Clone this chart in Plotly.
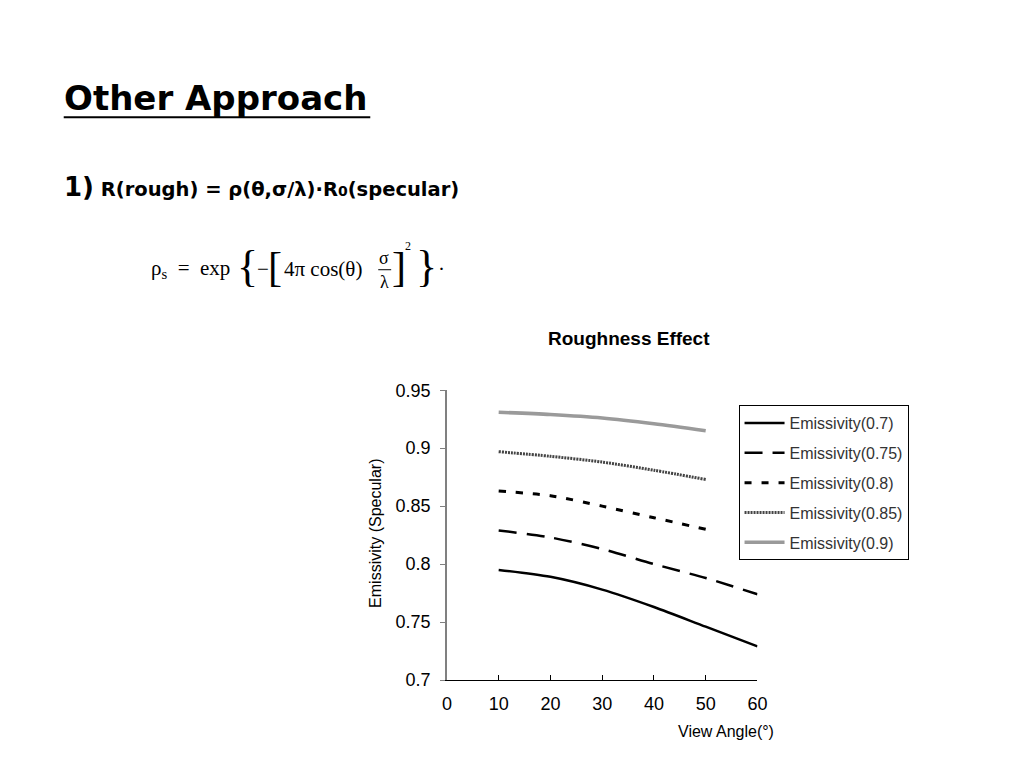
import plotly.graph_objects as go

angles_full = [10, 20, 30, 40, 50, 60]
angles_short = [10, 20, 30, 40, 50]

emis_070 = [0.795, 0.789, 0.778, 0.763, 0.746, 0.729]
emis_075 = [0.829, 0.823, 0.813, 0.800, 0.788, 0.774]
emis_080 = [0.863, 0.859, 0.850, 0.840, 0.830]
emis_085 = [0.897, 0.893, 0.888, 0.881, 0.873]
emis_090 = [0.931, 0.929, 0.926, 0.921, 0.915]

series_names = ["Emissivity(0.7)", "Emissivity(0.75)", "Emissivity(0.8)",
                "Emissivity(0.85)", "Emissivity(0.9)"]
x_ticks = [0, 10, 20, 30, 40, 50, 60]
y_ticks = [0.7, 0.75, 0.8, 0.85, 0.9, 0.95]
y_tick_labels = ["0.7", "0.75", "0.8", "0.85", "0.9", "0.95"]


# page-pixel -> paper fraction (compensates the photographing offset/scale)
def PX(d):
    return (d - 3.0) / 0.99 / 1024


def PY(d):
    return 1 - (d - 8.2) / 0.978 / 768


styles = [
    dict(color="black", width=2.5, dash="solid"),
    dict(color="black", width=2.5, dash="18px,10px"),
    dict(color="black", width=3, dash="7px,10px"),
    dict(color="#444444", width=3, dash="2px,1px"),
    dict(color="#9a9a9a", width=3.5, dash="solid"),
]
xs = [angles_full, angles_full, angles_short, angles_short, angles_short]
ys = [emis_070, emis_075, emis_080, emis_085, emis_090]

fig = go.Figure()
for i in range(5):
    fig.add_trace(go.Scatter(
        x=xs[i], y=ys[i], mode="lines", name=series_names[i],
        line=dict(shape="spline", smoothing=0.8, **styles[i]),
        legendgroup="g%d" % i,
    ))

FONT = "Liberation Sans, Arial, sans-serif"

fig.update_layout(
    width=1024, height=768,
    margin=dict(l=0, r=0, t=0, b=0),
    paper_bgcolor="white", plot_bgcolor="white",
    showlegend=True,
    legend=dict(
        x=PX(740), y=PY(405), xanchor="left", yanchor="top",
        bgcolor="white", bordercolor="black", borderwidth=1,
        font=dict(family=FONT, size=16, color="#333333"),
        tracegroupgap=6, itemwidth=40,
    ),
    xaxis=dict(
        domain=[PX(447), PX(759)], range=[0, 60], tickmode="array", tickvals=x_ticks,
        ticks="inside", ticklen=5, tickcolor="black", showline=True,
        linecolor="black", linewidth=1, showgrid=False, zeroline=False,
        ticklabelstandoff=7,
        tickfont=dict(family=FONT, size=18, color="black"),
    ),
    yaxis=dict(
        domain=[PY(681), PY(390)], range=[0.7, 0.95], tickmode="array",
        tickvals=y_ticks, ticktext=y_tick_labels,
        ticks="outside", ticklen=5, tickcolor="#808080", showline=True,
        linecolor="#808080", linewidth=1.5, showgrid=False, zeroline=False,
        ticklabelstandoff=6,
        tickfont=dict(family=FONT, size=18, color="black"),
    ),
)

SERIF = "Liberation Serif, DejaVu Serif, serif"
SLIDE = "DejaVu Sans, sans-serif"


def A(x, y, text, family, size, xanchor="left", **kw):
    d = dict(x=PX(x), y=PY(y), text=text, font=dict(family=family, size=size, color="black"),
             xanchor=xanchor, yanchor="middle", xref="paper", yref="paper", showarrow=False)
    d.update(kw)
    return d


ann = [
    A(60, 97, "<b>Other Approach</b>", SLIDE, 34),
    A(60, 186, "<b><span style='font-size:26px'>1)</span> R(rough) = ρ(θ,σ/λ)·R"
               "<span style='font-size:14px'>0</span>(specular)</b>", SLIDE, 19.5),
    A(148, 268, "ρ<sub>s</sub>  =  exp", SERIF, 21),
    A(234, 266, "{", SERIF, 44),
    A(254, 268, "−", SERIF, 21),
    A(265, 266, "[", SERIF, 42),
    A(281, 268, "4π cos(θ)", SERIF, 21),
    A(384, 257, "σ", SERIF, 18, xanchor="center"),
    A(384, 281, "λ", SERIF, 18, xanchor="center"),
    A(390, 266, "]", SERIF, 42),
    A(403, 245, "2", SERIF, 12),
    A(414, 266, "}", SERIF, 44),
    A(436, 268, "·", SERIF, 21),
    A(630, 338, "<b>Roughness Effect</b>", FONT, 19, xanchor="center"),
    A(375, 534, "Emissivity (Specular)", FONT, 16, xanchor="center", textangle=-90),
    A(778, 733, "View Angle(°)", FONT, 16, xanchor="right"),
]
fig.update_layout(annotations=ann)

fig.update_layout(shapes=[
    dict(type="line", xref="paper", yref="paper",
         x0=PX(62), x1=PX(370), y0=PY(116), y1=PY(116),
         line=dict(color="black", width=2)),
    dict(type="line", xref="paper", yref="paper",
         x0=PX(378), x1=PX(391), y0=PY(269), y1=PY(269),
         line=dict(color="black", width=1)),
])

fig.write_html("out.html",
               config={"displayModeBar": False},
               post_script="document.body.style.margin='0px';document.body.style.overflow='hidden';")
